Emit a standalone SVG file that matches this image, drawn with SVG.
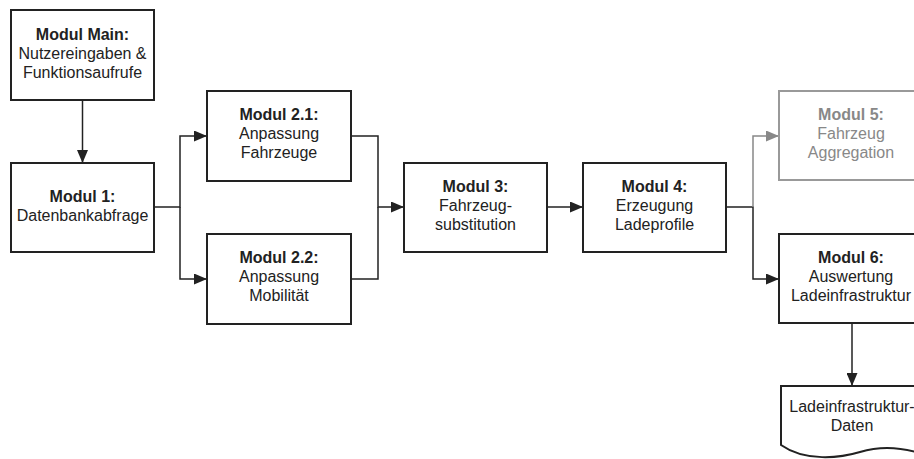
<svg xmlns="http://www.w3.org/2000/svg" width="914" height="459" viewBox="0 0 914 459">
<defs>
<marker id="ah" markerWidth="13" markerHeight="11" refX="13" refY="5.5" orient="auto" markerUnits="userSpaceOnUse"><path d="M0,0 L13,5.5 L0,11 Z" fill="#222"/></marker>
<marker id="ahg" markerWidth="13" markerHeight="11" refX="13" refY="5.5" orient="auto" markerUnits="userSpaceOnUse"><path d="M0,0 L13,5.5 L0,11 Z" fill="#888"/></marker>
</defs>
<style>
.box{fill:#fff;stroke:#222;stroke-width:2}
.gbox{fill:#fff;stroke:#999;stroke-width:2}
text{font-family:"Liberation Sans",Arial,sans-serif;font-size:16px;fill:#222;text-anchor:middle}
.b{font-weight:bold}
.g{fill:#888}
.c{fill:none;stroke:#222;stroke-width:1.5}
.cg{fill:none;stroke:#888;stroke-width:1.5}
</style>
<rect width="914" height="459" fill="#fff"/>
<g id="connectors">
<path class="c" d="M82.5,100 V163" marker-end="url(#ah)"/>
<path class="c" d="M154,207 H180 V136 H207" marker-end="url(#ah)"/>
<path class="c" d="M180,207 V279 H207" marker-end="url(#ah)"/>
<path class="c" d="M351,136 H378 V207 H404" marker-end="url(#ah)"/>
<path class="c" d="M351,279 H378 V207"/>
<path class="c" d="M547,207 H583" marker-end="url(#ah)"/>
<path class="c" d="M726,207 H753 V279 H779" marker-end="url(#ah)"/>
<path class="cg" d="M753,207 V136 H779" marker-end="url(#ahg)"/>
<path class="c" d="M852,323 V386" marker-end="url(#ah)"/>
</g>
<g id="main">
<rect class="box" x="11" y="10" width="143" height="90"/>
<text x="82.5" y="40" class="b">Modul Main:</text>
<text x="82.5" y="59">Nutzereingaben &amp;</text>
<text x="82.5" y="78">Funktionsaufrufe</text>
</g>
<g id="m1">
<rect class="box" x="11" y="163" width="143" height="89"/>
<text x="82.5" y="202" class="b">Modul 1:</text>
<text x="82.5" y="221">Datenbankabfrage</text>
</g>
<g id="m21">
<rect class="box" x="207" y="91" width="144" height="90"/>
<text x="279" y="120" class="b">Modul 2.1:</text>
<text x="279" y="139">Anpassung</text>
<text x="279" y="158">Fahrzeuge</text>
</g>
<g id="m22">
<rect class="box" x="207" y="234" width="144" height="90"/>
<text x="279" y="263" class="b">Modul 2.2:</text>
<text x="279" y="282">Anpassung</text>
<text x="279" y="301">Mobilität</text>
</g>
<g id="m3">
<rect class="box" x="404" y="163" width="143" height="89"/>
<text x="475.5" y="192" class="b">Modul 3:</text>
<text x="475.5" y="211">Fahrzeug-</text>
<text x="475.5" y="230">substitution</text>
</g>
<g id="m4">
<rect class="box" x="583" y="163" width="143" height="89"/>
<text x="654.5" y="192" class="b">Modul 4:</text>
<text x="654.5" y="211">Erzeugung</text>
<text x="654.5" y="230">Ladeprofile</text>
</g>
<g id="m5">
<rect class="gbox" x="779" y="91" width="144" height="89"/>
<text x="851" y="120" class="b g">Modul 5:</text>
<text x="851" y="139" class="g">Fahrzeug</text>
<text x="851" y="158" class="g">Aggregation</text>
</g>
<g id="m6">
<rect class="box" x="779" y="234" width="144" height="89"/>
<text x="851" y="263" class="b">Modul 6:</text>
<text x="851" y="282">Auswertung</text>
<text x="851" y="301">Ladeinfrastruktur</text>
</g>
<g id="doc">
<path class="box" d="M781,386 H925 V455 C900,446 880,446 860,452 C840,458 805,462 781,445 Z"/>
<text x="852" y="412">Ladeinfrastruktur-</text>
<text x="852" y="431">Daten</text>
</g>
</svg>
